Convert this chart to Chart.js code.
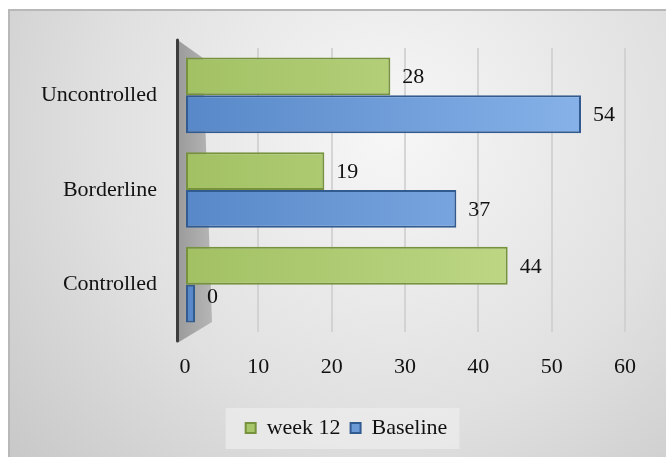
<!DOCTYPE html>
<html lang="en">
<head>
<meta charset="UTF-8">
<title>Control status: Baseline vs week 12</title>
<script src="https://cdn.jsdelivr.net/npm/chart.js"></script>
<style>
  html, body { margin: 0; padding: 0; background: #fff; }
  #wrap { width: 666px; height: 457px; position: relative; }
</style>
</head>
<body>
<div id="wrap"><canvas id="statusChart"></canvas></div>
<script>
  // data
  const categories = ['Uncontrolled', 'Borderline', 'Controlled'];
  const seriesNames = ['week 12', 'Baseline'];
  const week12 = [28, 19, 44];
  const baseline = [54, 37, 0];
  const xTicks = [0, 10, 20, 30, 40, 50, 60];

  const FONT = '"Liberation Serif", "Times New Roman", serif';
  const FONT_SIZE = 22;
  const LEGEND_SHIFT = 24;

  // horizontal gradient over the plot area for each series
  function barFill(light, dark) {
    return function (ctx) {
      const area = ctx.chart.chartArea;
      if (!area) return dark;
      const g = ctx.chart.ctx.createLinearGradient(area.left, 0, area.right, 0);
      g.addColorStop(0, dark);
      g.addColorStop(1, light);
      return g;
    };
  }

  // nudge the legend a little to the right of the canvas centre
  const legendShift = {
    id: 'legendShift',
    afterUpdate(chart) {
      const lg = chart.legend;
      if (!lg) return;
      lg.left += LEGEND_SHIFT;
      lg.right += LEGEND_SHIFT;
      (lg.legendHitBoxes || []).forEach(hb => { hb.left += LEGEND_SHIFT; });
    }
  };

  // grey backdrop, frame and the legend panel
  const backdrop = {
    id: 'backdrop',
    beforeDraw(chart) {
      const c = chart.ctx;
      const w = chart.width, h = chart.height;
      c.save();
      c.fillStyle = '#fff';
      c.fillRect(0, 0, w, h);
      const g = c.createRadialGradient(390, 130, 10, 390, 130, 520);
      g.addColorStop(0, '#f6f6f6');
      g.addColorStop(0.55, '#e0e0e0');
      g.addColorStop(1, '#c6c6c6');
      c.fillStyle = g;
      c.fillRect(8, 9, w - 8, h - 9);
      c.strokeStyle = '#b8b8b8';
      c.lineWidth = 2;
      c.strokeRect(9, 10, w, h);

      const boxes = chart.legend && chart.legend.legendHitBoxes;
      if (boxes && boxes.length) {
        let l = Infinity, r = -Infinity, t = Infinity, b = -Infinity;
        boxes.forEach(hb => {
          l = Math.min(l, hb.left); r = Math.max(r, hb.left + hb.width);
          t = Math.min(t, hb.top); b = Math.max(b, hb.top + hb.height);
        });
        c.fillStyle = 'rgba(236,236,236,0.75)';
        c.fillRect(l - 20, t - 9, r - l + 32, b - t + 19);
      }
      c.restore();
    }
  };

  // left wall of the plot
  const wall = {
    id: 'wall',
    beforeDatasetsDraw(chart) {
      const a = chart.chartArea;
      const c = chart.ctx;
      c.save();
      const g = c.createLinearGradient(a.left - 6, 0, a.left + 27, 0);
      g.addColorStop(0, '#9c9c9c');
      g.addColorStop(1, '#b6b6b6');
      c.fillStyle = g;
      c.beginPath();
      c.moveTo(a.left - 6, a.top - 7);
      c.lineTo(a.left + 18, a.top + 10);
      c.lineTo(a.left + 27, a.bottom - 10);
      c.lineTo(a.left - 6, a.bottom + 10);
      c.closePath();
      c.fill();
      c.strokeStyle = '#3c3c3c';
      c.lineWidth = 3;
      c.lineCap = 'round';
      c.beginPath();
      c.moveTo(a.left - 7.5, a.top - 8);
      c.lineTo(a.left - 7.5, a.bottom + 9);
      c.stroke();
      c.restore();
    }
  };

  // value labels to the right of each bar
  const valueLabels = {
    id: 'valueLabels',
    afterDatasetsDraw(chart) {
      const c = chart.ctx;
      c.save();
      c.font = FONT_SIZE + 'px ' + FONT;
      c.fillStyle = '#111';
      c.textAlign = 'left';
      c.textBaseline = 'middle';
      chart.data.datasets.forEach((ds, i) => {
        chart.getDatasetMeta(i).data.forEach((bar, j) => {
          const dy = ds.data[j] === 0 ? -6 : 1;
          c.fillText(String(ds.data[j]), bar.x + 12, bar.y + dy);
        });
      });
      c.restore();
    }
  };

  new Chart(document.getElementById('statusChart'), {
    type: 'bar',
    data: {
      labels: categories,
      datasets: [
        {
          label: seriesNames[0],
          data: week12,
          backgroundColor: barFill('#c6de90', '#a2c163'),
          borderColor: '#76923c',
          borderWidth: 2,
          borderSkipped: false
        },
        {
          label: seriesNames[1],
          data: baseline,
          backgroundColor: barFill('#8bb6ec', '#5888c8'),
          borderColor: '#325b92',
          borderWidth: 2,
          borderSkipped: false,
          minBarLength: 10
        }
      ]
    },
    plugins: [legendShift, backdrop, wall, valueLabels],
    options: {
      indexAxis: 'y',
      responsive: true,
      maintainAspectRatio: false,
      animation: false,
      layout: { padding: { top: 48, right: 41, left: 20, bottom: 8 } },
      datasets: {
        bar: { categoryPercentage: 0.8, barPercentage: 1.0 }
      },
      scales: {
        x: {
          min: xTicks[0],
          max: xTicks[xTicks.length - 1],
          afterBuildTicks(scale) {
            scale.ticks = xTicks.map(v => ({ value: v }));
          },
          afterFit(scale) { scale.height = 75; },
          border: { display: false },
          grid: {
            drawTicks: false,
            lineWidth: 2,
            color: ctx => (ctx.tick && ctx.tick.value === 0 ? 'rgba(0,0,0,0)' : 'rgba(205,205,205,0.8)')
          },
          ticks: {
            padding: 22,
            color: '#111',
            font: { family: FONT, size: FONT_SIZE }
          }
        },
        y: {
          afterFit(scale) { scale.width = 165; },
          border: { display: false },
          grid: { display: false, drawTicks: false },
          ticks: {
            padding: 28,
            color: '#111',
            font: { family: FONT, size: FONT_SIZE }
          }
        }
      },
      plugins: {
        legend: {
          position: 'bottom',
          labels: {
            boxWidth: 10,
            boxHeight: 10,
            padding: 10,
            color: '#111',
            font: { family: FONT, size: FONT_SIZE }
          }
        },
        tooltip: { enabled: false }
      }
    }
  });
</script>
</body>
</html>
